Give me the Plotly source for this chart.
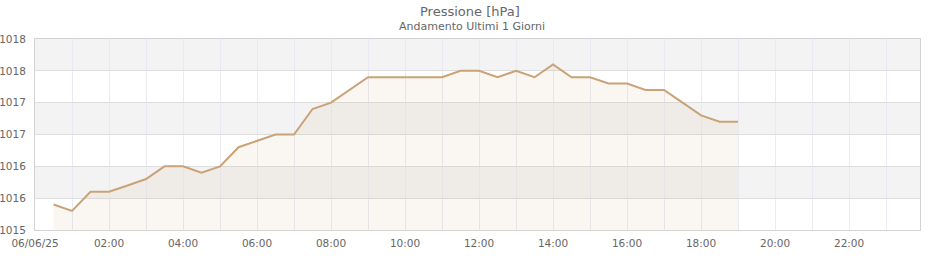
import plotly.graph_objects as go

# ---- data ----
times = ["00:30", "01:00", "01:30", "02:00", "02:30", "03:00", "03:30", "04:00",
         "04:30", "05:00", "05:30", "06:00", "06:30", "07:00", "07:30", "08:00",
         "08:30", "09:00", "09:30", "10:00", "10:30", "11:00", "11:30", "12:00",
         "12:30", "13:00", "13:30", "14:00", "14:30", "15:00", "15:30", "16:00",
         "16:30", "17:00", "17:30", "18:00", "18:30", "19:00"]
pressure = [1015.4, 1015.3, 1015.6, 1015.6, 1015.7, 1015.8, 1016.0, 1016.0,
            1015.9, 1016.0, 1016.3, 1016.4, 1016.5, 1016.5, 1016.9, 1017.0,
            1017.2, 1017.4, 1017.4, 1017.4, 1017.4, 1017.4, 1017.5, 1017.5,
            1017.4, 1017.5, 1017.4, 1017.6, 1017.4, 1017.4, 1017.3, 1017.3,
            1017.2, 1017.2, 1017.0, 1016.8, 1016.7, 1016.7]
day = "2025-06-06"
hour_ticks = ["%02d:00" % h for h in range(24)]
tick_labels = ["06/06/25", "", "02:00", "", "04:00", "", "06:00", "", "08:00", "",
               "10:00", "", "12:00", "", "14:00", "", "16:00", "", "18:00", "",
               "20:00", "", "22:00", ""]
y_ticks = [1015, 1015.5, 1016, 1016.5, 1017, 1017.5, 1018]

title = "Pressione [hPa]"
subtitle = "Andamento Ultimi 1 Giorni"

x = [f"{day} {t}" for t in times]
FONT = "DejaVu Sans"
LINE = "rgb(201,163,118)"

fig = go.Figure()
fig.add_trace(go.Scatter(
    x=x, y=pressure, mode="lines",
    line=dict(color=LINE, width=2),
    fill="tozeroy", fillcolor="rgba(201,163,118,0.09)",
    hoverinfo="x+y", showlegend=False,
))

# alternating plot bands
shapes = []
for i in range(len(y_ticks) - 1):
    if i % 2 == 1:
        shapes.append(dict(type="rect", xref="paper", yref="y", x0=0, x1=1,
                           y0=y_ticks[i], y1=y_ticks[i + 1],
                           fillcolor="#f3f3f3", line=dict(width=0), layer="below"))

fig.update_layout(
    width=940, height=260,
    margin=dict(l=35, r=20, t=39, b=30),
    paper_bgcolor="white", plot_bgcolor="white",
    font=dict(family=FONT, size=10.5, color="#666666"),
    shapes=shapes,
    annotations=[
        dict(text=title, xref="paper", yref="paper", x=(470 - 35) / 885, y=1 + 28 / 191,
             xanchor="center", yanchor="middle", showarrow=False,
             font=dict(family=FONT, size=13, color="#666666")),
        dict(text=subtitle, xref="paper", yref="paper", x=(472 - 35) / 885, y=1 + 12 / 191,
             xanchor="center", yanchor="middle", showarrow=False,
             font=dict(family=FONT, size=11, color="#666666")),
    ],
)
fig.update_xaxes(
    type="date", automargin=False,
    range=[f"{day} 00:00", f"{day} 23:55"],
    tickvals=[f"{day} {t}" for t in hour_ticks],
    ticktext=tick_labels,
    showgrid=True, gridcolor="#ebe9f6", gridwidth=1,
    showline=True, linecolor="#d3d3d3", linewidth=1, mirror=True,
    ticks="", zeroline=False, ticklabelstandoff=3,
)
fig.update_yaxes(
    range=[1015, 1018], automargin=False,
    tickvals=y_ticks, tickformat=".0f",
    showgrid=True, gridcolor="#dedede", gridwidth=1,
    showline=True, linecolor="#d3d3d3", linewidth=1, mirror=True,
    ticks="", zeroline=False, ticklabelstandoff=6,
)

fig.write_html("out.html")
